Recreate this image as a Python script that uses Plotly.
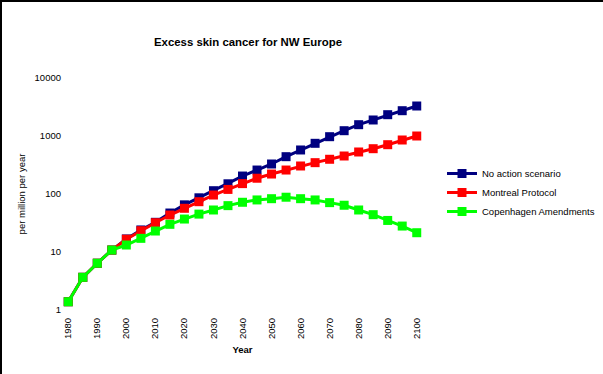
import plotly.graph_objects as go

years = [1980, 1985, 1990, 1995, 2000, 2005, 2010, 2015, 2020, 2025, 2030, 2035, 2040,
         2045, 2050, 2055, 2060, 2065, 2070, 2075, 2080, 2085, 2090, 2095, 2100]
no_action = [1.39, 3.66, 6.4, 10.8, 16.8, 24, 32.5, 47, 65, 86, 114, 150, 204,
             259, 329, 440, 574, 748, 973, 1234, 1567, 1888, 2330, 2730, 3290]
montreal = [1.39, 3.66, 6.4, 10.8, 16.6, 23.3, 32, 43.4, 56.7, 73.7, 96, 120, 151,
            187, 221, 259, 304, 347, 397, 452, 530, 604, 708, 853, 1000]
copenhagen = [1.39, 3.66, 6.4, 10.8, 13.2, 17.2, 23, 30, 37, 45, 53, 63, 72,
              79, 83, 88, 83, 79, 71, 64, 53, 44, 35, 28, 21.5]
x_ticks = [1980, 1990, 2000, 2010, 2020, 2030, 2040, 2050, 2060, 2070, 2080, 2090, 2100]
y_ticks = [1, 10, 100, 1000, 10000]
series_names = ["No action scenario", "Montreal Protocol", "Copenhagen Amendments"]
series_colors = ["#000080", "#FF0000", "#00FF00"]

FONT = "Liberation Sans, Arial, sans-serif"
W, H = 603, 374
ML, MR, MT, MB = 61, 179, 78, 64

fig = go.Figure()
for name, vals, col in zip(series_names, [no_action, montreal, copenhagen], series_colors):
    fig.add_trace(go.Scatter(
        x=years, y=vals, name=name, mode="lines+markers",
        line=dict(color=col, width=3),
        marker=dict(symbol="square", size=9, color=col, line=dict(width=0)),
    ))

pw = W - ML - MR
ph = H - MT - MB

fig.update_layout(
    width=W, height=H,
    margin=dict(l=ML, r=MR, t=MT, b=MB, pad=0, autoexpand=False),
    paper_bgcolor="white", plot_bgcolor="white",
    font=dict(family=FONT, size=10, color="black"),
    title=dict(text="<b>Excess skin cancer for NW Europe</b>", x=248 / W, xanchor="center",
               y=1 - 42 / H, yanchor="middle", font=dict(size=11.4, family=FONT, color="black")),
    showlegend=True,
    legend=dict(x=(442 - ML) / pw, y=(H - MB - 159) / ph,
                xanchor="left", yanchor="top", bgcolor="rgba(0,0,0,0)",
                font=dict(size=9.5, family=FONT, color="black"), tracegroupgap=0, itemwidth=30),
    xaxis=dict(range=[1977.5, 2102.5], tickmode="array", tickvals=x_ticks,
               ticktext=[str(t) for t in x_ticks], tickangle=-90,
               showgrid=False, zeroline=False, showline=False, ticks="",
               tickfont=dict(size=9.5, family=FONT, color="black"), ticklabelstandoff=5,
               title=dict(text="<b>Year</b>", font=dict(size=9.5, family=FONT, color="black"), standoff=8)),
    yaxis=dict(type="log", range=[0, 4], tickmode="array", tickvals=y_ticks,
               ticktext=[str(t) for t in y_ticks],
               showgrid=False, zeroline=False, showline=False, ticks="",
               tickfont=dict(size=9.5, family=FONT, color="black"), ticklabelstandoff=-1,
               title=dict(text="per million per year", font=dict(size=9.5, family=FONT, color="black"), standoff=7)),
)

# chart border (left and top edges)
x0p = -ML / pw
y1p = 1 + MT / ph
fig.add_shape(type="line", xref="paper", yref="paper", x0=x0p + 1 / pw, x1=x0p + 1 / pw,
              y0=-MB / ph, y1=y1p, line=dict(color="black", width=2))
fig.add_shape(type="line", xref="paper", yref="paper", x0=x0p, x1=1 + MR / pw,
              y0=y1p - 1 / ph, y1=y1p - 1 / ph, line=dict(color="black", width=2))

fig.write_html("out.html", config={"displayModeBar": False},
               post_script="document.body.style.margin='0';document.body.style.overflow='hidden';")
